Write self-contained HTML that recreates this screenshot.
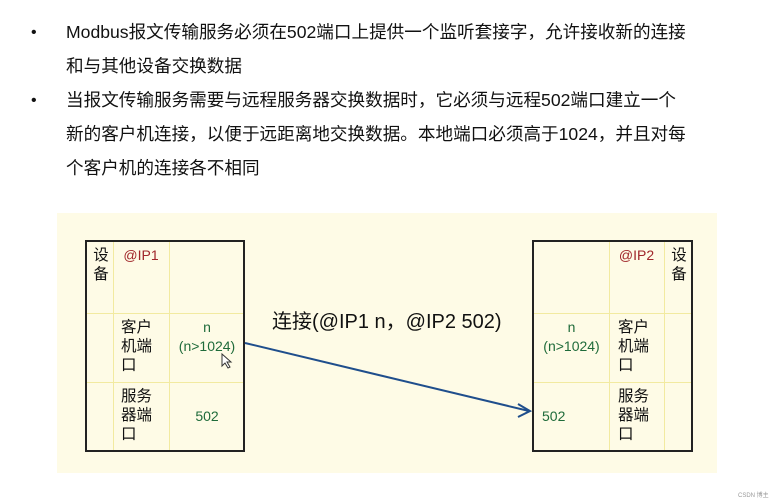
<!DOCTYPE html>
<html><head><meta charset="utf-8"><style>
body{margin:0;width:784px;height:500px;background:#fff;position:relative;overflow:hidden;font-family:"Liberation Sans","Noto Sans CJK SC",sans-serif;color:#111}
.t{position:absolute;white-space:nowrap;font-size:17.6px;line-height:20px}
.b{position:absolute;font-size:16px}
.bg{position:absolute;left:57px;top:213px;width:660px;height:260px;background:#fefbe6}
.tbl{position:absolute;border:2px solid #222;box-sizing:border-box}
.vl{position:absolute;top:0;bottom:0;width:1px;background:#f2eaa0}
.hl{position:absolute;left:0;right:0;height:1px;background:#f2eaa0}
.c{position:absolute;font-size:15.5px;line-height:19px;text-align:center}
.red{color:#a0262a}.grn{color:#1f6b3a}
</style></head><body>
<div class="b" style="left:31px;top:24px">•</div>
<div class="b" style="left:31px;top:92px">•</div>
<div class="t" style="left:66px;top:22px">Modbus报文传输服务必须在502端口上提供一个监听套接字，允许接收新的连接</div>
<div class="t" style="left:66px;top:56px">和与其他设备交换数据</div>
<div class="t" style="left:66px;top:90px">当报文传输服务需要与远程服务器交换数据时，它必须与远程502端口建立一个</div>
<div class="t" style="left:66px;top:124px">新的客户机连接，以便于远距离地交换数据。本地端口必须高于1024，并且对每</div>
<div class="t" style="left:66px;top:158px">个客户机的连接各不相同</div>
<div class="bg"></div>
<div class="tbl" style="left:85px;top:240px;width:160px;height:212px">
 <div class="vl" style="left:26px"></div><div class="vl" style="left:82px"></div>
 <div class="hl" style="top:71px"></div><div class="hl" style="top:140px"></div>
 <div class="c" style="left:5px;top:4px;width:18px">设备</div>
 <div class="c red" style="left:26px;top:4px;width:56px;font-size:14px">@IP1</div>
 <div class="c" style="left:34px;top:76px;width:36px;text-align:left">客户机端口</div>
 <div class="c grn" style="left:82px;top:76px;width:76px;font-size:14px">n<br>(n&gt;1024)</div>
 <div class="c" style="left:34px;top:145px;width:36px;text-align:left">服务器端口</div>
 <div class="c grn" style="left:82px;top:165px;width:76px;font-size:14px">502</div>
</div>
<div class="tbl" style="left:532px;top:240px;width:161px;height:212px">
 <div class="vl" style="left:75px"></div><div class="vl" style="left:130px"></div>
 <div class="hl" style="top:71px"></div><div class="hl" style="top:140px"></div>
 <div class="c red" style="left:75px;top:4px;width:55px;font-size:14px">@IP2</div>
 <div class="c" style="left:136px;top:4px;width:18px">设备</div>
 <div class="c grn" style="left:0;top:76px;width:75px;font-size:14px">n<br>(n&gt;1024)</div>
 <div class="c" style="left:84px;top:76px;width:36px;text-align:left">客户机端口</div>
 <div class="c grn" style="left:8px;top:165px;width:30px;font-size:14px;text-align:left">502</div>
 <div class="c" style="left:84px;top:145px;width:36px;text-align:left">服务器端口</div>
</div>
<div class="t" style="left:272px;top:310px;font-size:20px;line-height:24px">连接(@IP1 n，@IP2 502)</div>
<svg style="position:absolute;left:0;top:0" width="784" height="500">
<line x1="245" y1="343" x2="529" y2="411" stroke="#1f4e8c" stroke-width="2"/>
<polyline points="518,404 530,411 518,417" fill="none" stroke="#1f4e8c" stroke-width="2"/>
<path d="M222,354 l0,12 l3,-3 l3,5 l2,-1 l-3,-5 l4,0 z" fill="#fff" stroke="#333" stroke-width="1"/>
</svg>
<div style="position:absolute;left:738px;top:490px;font-size:6px;color:#999">CSDN 博主</div>
</body></html>
